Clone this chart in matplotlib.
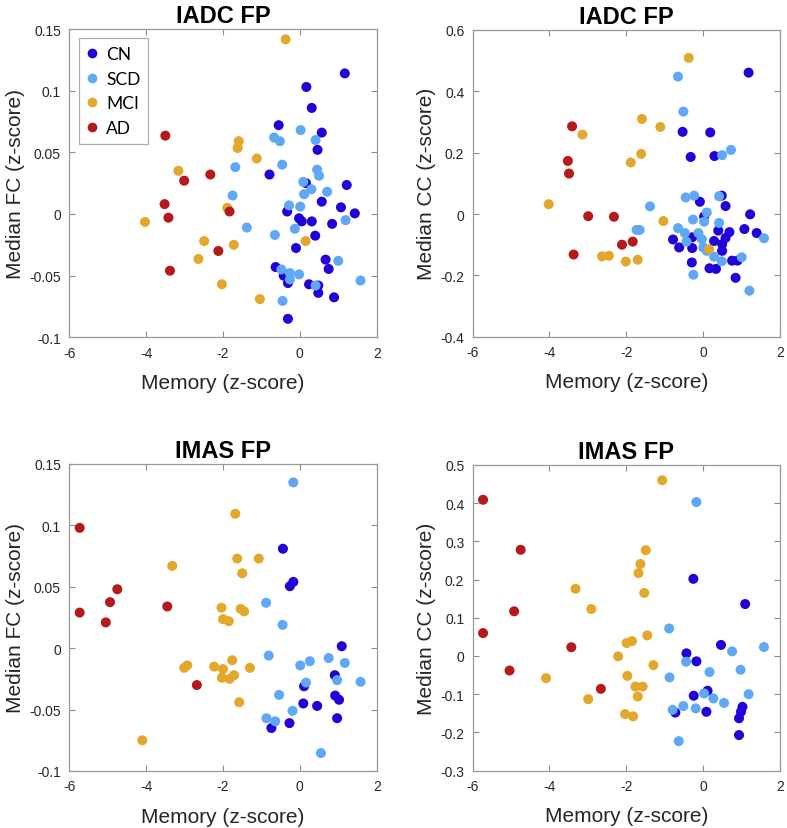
import matplotlib
matplotlib.use("Agg")
import matplotlib.pyplot as plt
from matplotlib.lines import Line2D

plt.rcParams['font.family'] = ['Liberation Sans', 'DejaVu Sans']
plt.rcParams['axes.unicode_minus'] = False

groups = ["CN", "SCD", "MCI", "AD"]
colors = {"CN": "#2200D8", "SCD": "#5EA8F5", "MCI": "#E3A82B", "AD": "#B4191C"}

# ---------------- Panel 1: IADC FP, Median FC ----------------
p1_cn_x = [1.17, 0.17, 0.31, -0.55, 0.57, 0.46, -0.79, 1.22, 0.16, 0.57, 1.07, 1.43, -0.33, -0.02,
           0.05, 0.31, 0.84, 0.40, -0.10, 0.67, 0.75, -0.63, -0.42, -0.31, 0.24, 0.48, 0.48, 0.89, -0.31]
p1_cn_y = [0.114, 0.103, 0.086, 0.072, 0.066, 0.052, 0.032, 0.0235, 0.025, 0.010, 0.0054, 0.0005, 0.002,
           -0.0035, -0.006, -0.006, -0.008, -0.0176, -0.0276, -0.037, -0.0446, -0.043, -0.050, -0.056,
           -0.057, -0.058, -0.064, -0.0676, -0.085]
p1_scd_x = [0.02, -0.67, -0.52, 0.41, -1.68, -0.46, 0.45, 0.50, 0.09, 0.30, 0.71, 0.11, -1.75, -0.28,
            0.01, 1.19, -1.38, -0.13, -0.65, 1.00, -0.48, -0.26, -0.02, -0.26, 0.41, 1.58, -0.45]
p1_scd_y = [0.068, 0.062, 0.059, 0.060, 0.038, 0.040, 0.036, 0.031, 0.026, 0.020, 0.018, 0.016, 0.015,
            0.007, 0.006, -0.005, -0.011, -0.012, -0.017, -0.038, -0.045, -0.048, -0.049, -0.053,
            -0.058, -0.054, -0.0705]
p1_mci_x = [-0.37, -1.59, -1.62, -1.12, -3.16, -1.89, -4.03, -2.49, -1.72, 0.15, -2.64, -2.03, -1.04]
p1_mci_y = [0.1416, 0.059, 0.0535, 0.045, 0.035, 0.005, -0.0065, -0.022, -0.025, -0.022, -0.0365,
            -0.057, -0.069]
p1_ad_x = [-3.50, -3.01, -2.33, -3.52, -3.42, -1.83, -2.12, -3.38]
p1_ad_y = [0.0635, 0.027, 0.032, 0.008, -0.003, 0.002, -0.030, -0.046]

# ---------------- Panel 2: IADC FP, Median CC ----------------
p2_cn_x = [1.19, -0.53, 0.19, -0.32, 0.30, -0.08, 0.49, 0.59, 1.23, 0.03, 1.08, 1.40, 0.40, 0.69,
           -0.78, -0.28, 0.59, 0.29, -0.62, -0.28, 0.50, 0.50, 0.76, 0.90, -0.29, 0.17, 0.34, 0.85]
p2_cn_y = [0.461, 0.268, 0.266, 0.186, 0.189, 0.040, 0.060, 0.026, -0.001, -0.008, -0.049, -0.062,
           -0.054, -0.059, -0.083, -0.076, -0.078, -0.088, -0.109, -0.111, -0.098, -0.120, -0.152,
           -0.152, -0.158, -0.177, -0.179, -0.208]
p2_scd_x = [-0.65, -0.51, 0.73, 0.50, -0.45, -0.23, 0.42, -1.38, 0.10, -0.26, 0.03, 0.42, -1.73,
            -1.65, -0.65, -0.47, -0.12, -0.43, -0.03, 0.01, 0.10, 0.29, 0.49, 1.01, -0.25, 1.21, 1.59]
p2_scd_y = [0.448, 0.334, 0.209, 0.192, 0.054, 0.060, 0.058, 0.025, 0.005, -0.018, -0.025, -0.029,
            -0.052, -0.052, -0.046, -0.062, -0.062, -0.090, -0.082, -0.109, -0.120, -0.139, -0.154,
            -0.141, -0.198, -0.250, -0.079]
p2_mci_x = [-0.37, -1.59, -1.11, -3.14, -1.61, -1.88, -4.02, -1.03, 0.16, -2.63, -2.45, -2.01, -1.70]
p2_mci_y = [0.509, 0.310, 0.284, 0.259, 0.196, 0.168, 0.032, -0.023, -0.115, -0.138, -0.136, -0.155,
            -0.149]
p2_ad_x = [-3.41, -3.52, -3.49, -2.99, -2.32, -2.11, -1.83, -3.37]
p2_ad_y = [0.286, 0.173, 0.132, -0.007, -0.009, -0.100, -0.090, -0.132]

# ---------------- Panel 3: IMAS FP, Median FC ----------------
p3_cn_x = [-0.44, -0.26, -0.17, 1.09, 0.91, 0.11, 0.09, 0.45, 0.92, 1.02, 0.97, -0.27, -0.74]
p3_cn_y = [0.081, 0.0505, 0.054, 0.0016, -0.022, -0.031, -0.045, -0.047, -0.0386, -0.042, -0.057,
           -0.061, -0.065]
p3_scd_x = [-0.17, -0.88, -0.45, -0.81, 0.01, 0.26, 0.75, 1.17, 0.16, 0.97, 1.58, -0.54, -0.19,
            -0.87, -0.64, 0.55]
p3_scd_y = [0.135, 0.037, 0.019, -0.006, -0.014, -0.0106, -0.008, -0.012, -0.028, -0.026, -0.0274,
            -0.038, -0.051, -0.057, -0.0595, -0.0854]
p3_mci_x = [-1.68, -3.32, -1.63, -1.07, -1.50, -2.04, -1.54, -1.45, -2.00, -1.85, -3.01, -2.93,
            -2.23, -2.00, -1.76, -1.30, -2.03, -1.83, -1.71, -1.58, -4.10]
p3_mci_y = [0.1095, 0.067, 0.073, 0.073, 0.061, 0.033, 0.032, 0.030, 0.0236, 0.022, -0.016, -0.014,
            -0.015, -0.017, -0.0098, -0.016, -0.024, -0.025, -0.022, -0.044, -0.075]
p3_ad_x = [-5.73, -5.73, -4.75, -4.94, -5.05, -3.45, -2.68]
p3_ad_y = [0.098, 0.029, 0.048, 0.0375, 0.021, 0.034, -0.030]

# ---------------- Panel 4: IMAS FP, Median CC ----------------
p4_cn_x = [-0.25, 1.10, 0.47, -0.43, -0.17, 0.12, -0.24, 0.09, -0.72, 1.03, 0.99, 0.94, 0.94]
p4_cn_y = [0.202, 0.136, 0.029, 0.007, -0.014, -0.091, -0.104, -0.146, -0.148, -0.133, -0.146,
           -0.163, -0.207]
p4_scd_x = [-0.17, -0.88, 0.76, 1.59, -0.44, 0.17, 0.98, -0.87, 1.19, 0.03, 0.27, 0.55, -0.19,
            -0.51, -0.79, -0.63]
p4_scd_y = [0.403, 0.072, 0.012, 0.0235, -0.015, -0.042, -0.036, -0.056, -0.100, -0.098, -0.111,
            -0.123, -0.137, -0.131, -0.141, -0.223]
p4_mci_x = [-1.06, -1.49, -1.63, -1.68, -1.53, -3.32, -2.91, -1.99, -1.85, -1.45, -2.21, -1.29,
            -4.09, -1.97, -1.76, -1.57, -1.70, -2.99, -2.03, -1.82]
p4_mci_y = [0.460, 0.277, 0.241, 0.217, 0.165, 0.176, 0.123, 0.034, 0.039, 0.054, -0.001, -0.024,
            -0.058, -0.052, -0.080, -0.080, -0.106, -0.113, -0.152, -0.158]
p4_ad_x = [-5.73, -4.75, -4.92, -5.73, -5.04, -3.43, -2.66]
p4_ad_y = [0.409, 0.278, 0.117, 0.060, -0.038, 0.023, -0.086]

titles = ["IADC FP", "IADC FP", "IMAS FP", "IMAS FP"]
ylabels = ["Median FC (z-score)", "Median CC (z-score)", "Median FC (z-score)", "Median CC (z-score)"]
xlabel = "Memory (z-score)"
xticks = [-6, -4, -2, 0, 2]
yticks_fc = [-0.1, -0.05, 0, 0.05, 0.1, 0.15]
yticks_fc_lbl = ["-0.1", "-0.05", "0", "0.05", "0.1", "0.15"]
yticks_cc1 = [-0.4, -0.2, 0, 0.2, 0.4, 0.6]
yticks_cc1_lbl = ["-0.4", "-0.2", "0", "0.2", "0.4", "0.6"]
yticks_cc2 = [-0.3, -0.2, -0.1, 0, 0.1, 0.2, 0.3, 0.4, 0.5]
yticks_cc2_lbl = ["-0.3", "-0.2", "-0.1", "0", "0.1", "0.2", "0.3", "0.4", "0.5"]

panels = [
    {"CN": (p1_cn_x, p1_cn_y), "SCD": (p1_scd_x, p1_scd_y), "MCI": (p1_mci_x, p1_mci_y), "AD": (p1_ad_x, p1_ad_y)},
    {"CN": (p2_cn_x, p2_cn_y), "SCD": (p2_scd_x, p2_scd_y), "MCI": (p2_mci_x, p2_mci_y), "AD": (p2_ad_x, p2_ad_y)},
    {"CN": (p3_cn_x, p3_cn_y), "SCD": (p3_scd_x, p3_scd_y), "MCI": (p3_mci_x, p3_mci_y), "AD": (p3_ad_x, p3_ad_y)},
    {"CN": (p4_cn_x, p4_cn_y), "SCD": (p4_scd_x, p4_scd_y), "MCI": (p4_mci_x, p4_mci_y), "AD": (p4_ad_x, p4_ad_y)},
]
yt = [(yticks_fc, yticks_fc_lbl), (yticks_cc1, yticks_cc1_lbl), (yticks_fc, yticks_fc_lbl), (yticks_cc2, yticks_cc2_lbl)]

W, H = 787, 829
fig = plt.figure(figsize=(W / 100, H / 100), dpi=100)
boxes = [(69.3, 30, 376.7, 338.3), (472.7, 31, 779.7, 337.7),
         (69.3, 465, 376.7, 772), (472.7, 466, 779.7, 771.6)]
txtc = "#262626"
for i, (l, t, r, b) in enumerate(boxes):
    ax = fig.add_axes([l / W, 1 - b / H, (r - l) / W, (b - t) / H])
    for g in groups:
        xs, ys = panels[i][g]
        ax.scatter(xs, ys, s=52, color=colors[g], edgecolors='none', zorder=3, label=g)
    ax.set_xlim(-6, 2)
    ticks, lbls = yt[i]
    ax.set_ylim(ticks[0], ticks[-1])
    ax.set_xticks(xticks)
    ax.set_xticklabels([str(v) for v in xticks])
    ax.set_yticks(ticks)
    ax.set_yticklabels(lbls)
    ax.tick_params(direction='in', top=True, right=True, length=4, width=0.8,
                   color='#8c8c8c', labelcolor=txtc, labelsize=10, pad=6)
    for sp in ax.spines.values():
        sp.set_color('#9a9a9a')
        sp.set_linewidth(0.9)
    ax.set_title(titles[i], fontsize=17, fontweight='bold', color='black', pad=5)
    ax.set_xlabel(xlabel, fontsize=15, color=txtc, labelpad=9.5)
    ax.set_ylabel(ylabels[i], fontsize=15, color=txtc, labelpad=3)
    if i == 0:
        handles = [Line2D([0], [0], marker='o', linestyle='none', markersize=7,
                          markerfacecolor=colors[g], markeredgecolor='none', label=g) for g in groups]
        leg = ax.legend(handles=handles, loc='upper left', bbox_to_anchor=(0.03, 0.97),
                        frameon=True, fancybox=False, prop={'family': 'Lato', 'size': 12.5},
                        handlelength=0.6, handletextpad=0.55, labelspacing=0.5,
                        borderpad=0.45, borderaxespad=0.0)
        leg.get_frame().set_edgecolor('#9a9a9a')
        leg.get_frame().set_linewidth(0.9)

fig.savefig("out.png", dpi=100)
